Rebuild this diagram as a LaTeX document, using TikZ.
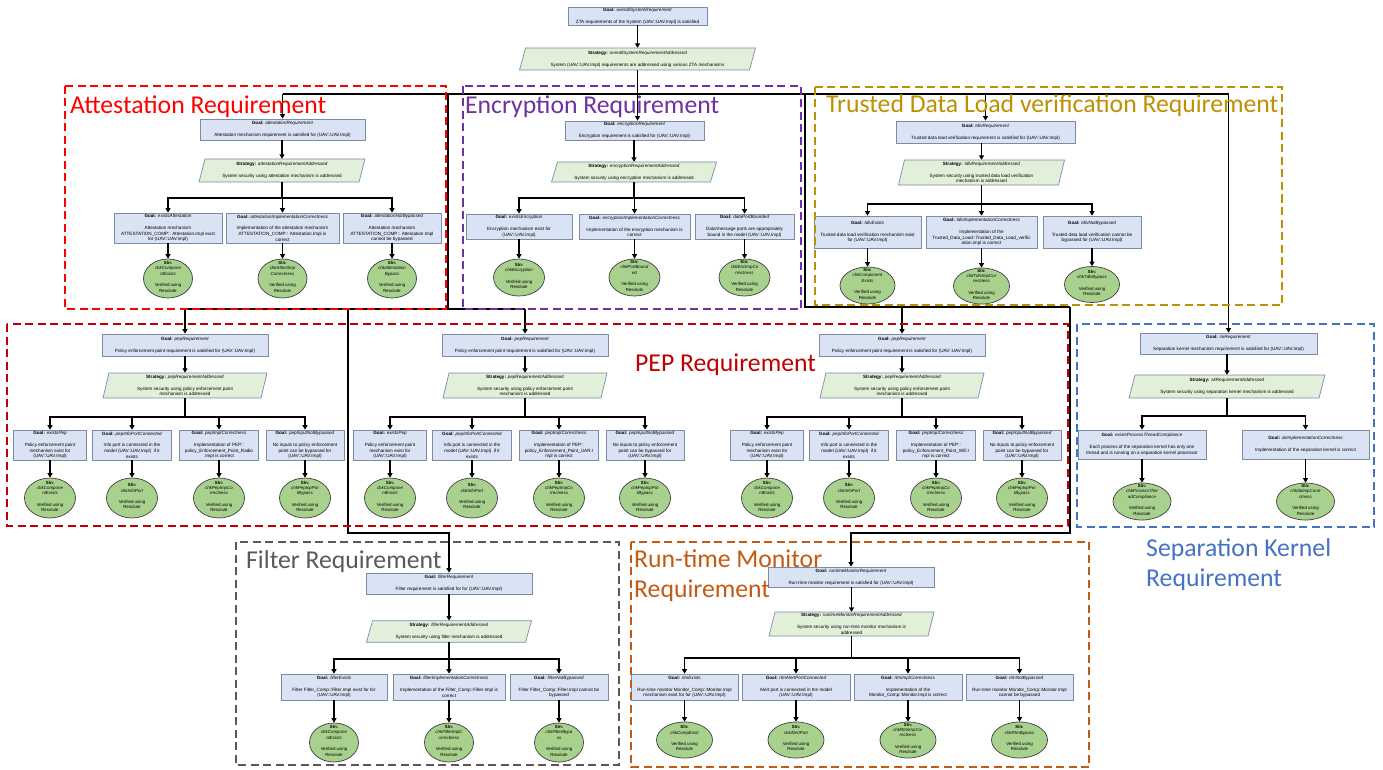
\documentclass[tikz,border=0pt]{standalone}
\usepackage{fontspec}
\setmainfont{Liberation Sans}
\newfontfamily\calib{Carlito}
\usetikzlibrary{arrows.meta,shapes.geometric}

\definecolor{gfill}{HTML}{DAE3F3}
\definecolor{gborder}{HTML}{7C8BA8}
\definecolor{sfill}{HTML}{E2F0D9}
\definecolor{sborder}{HTML}{7C8BA8}
\definecolor{efill}{HTML}{A9D18E}
\definecolor{eborder}{HTML}{3F3F3F}
\definecolor{attc}{HTML}{FF0000}
\definecolor{encc}{HTML}{7030A0}
\definecolor{tdlvc}{HTML}{BF9000}
\definecolor{pepc}{HTML}{C00000}
\definecolor{skc}{HTML}{4472C4}
\definecolor{filc}{HTML}{595959}
\definecolor{rtmc}{HTML}{C55A11}

\newcommand\boxfont{\fontsize{4.6}{5.7}\selectfont}
\newcommand\GoalT[1]{\textbf{Goal:} \textit{#1}}
\newcommand\StratT[1]{\textbf{Strategy:} \textit{#1}}
\newcommand\SlnT[1]{\raisebox{0pt}[0pt][0pt]{\begin{tabular}{@{}c@{}}\textbf{Sln:}\\#1\\[6pt]Verified using\\Resolute\end{tabular}}}

% strategy: parallelogram drawn first, then the named text node on top
% #1 name, #2 cx, #3 cy, #4 width, #5 height, #6 text
\newcommand\Strat[6]{%
  \path[stratshape] ({#2-#4/2-3},{#3+#5/2}) -- ({#2+#4/2-3},{#3+#5/2})
    -- ({#2+#4/2+3},{#3-#5/2}) -- ({#2-#4/2+3},{#3-#5/2}) -- cycle;
  \node[strat, minimum width=#4pt, minimum height=#5pt] (#1) at (#2,#3) {#6};%
}

% policy enforcement point subtree: #1 prefix, #2 centre x, #3 end of impl name
\newcommand\PEPblock[3]{%
  \node[goal, minimum width=166pt, minimum height=22pt] (#1G) at (#2,345)
    {\GoalT{pepRequirement}\\[6pt]Policy enforcement point requirement is satisfied for (UAV::UAV.Impl)};
  \Strat{#1S}{#2}{385.5}{158}{25}{\StratT{pepRequirementAddressed}\\[6pt]System security using policy enforcement point\\mechanism is addressed}
  \coordinate (#1B) at (#2,417);
  \node[goal, minimum width=73pt, minimum height=30pt] (#1C1) at ({#2-135},445)
    {\GoalT{existsPep}\\[6pt]Policy enforcement point\\mechanism exist for\\(UAV::UAV.Impl)};
  \node[goal, minimum width=79pt, minimum height=30pt] (#1C2) at ({#2-53},445)
    {\GoalT{pepInfoPortConnected}\\[6pt]Info port is connected in the\\model (UAV::UAV.Impl)\ \ if it\\exists};
  \node[goal, minimum width=79pt, minimum height=30pt] (#1C3) at ({#2+34},445)
    {\GoalT{pepImplCorrectness}\\[6pt]Implementation of PEP::\\policy\_Enforcement\_Point\_#3};
  \node[goal, minimum width=78pt, minimum height=30pt] (#1C4) at ({#2+120},445)
    {\GoalT{pepInputNotBypassed}\\[6pt]No inputs to policy enforcement\\point can be bypassed for\\(UAV::UAV.Impl)};
  \node[sln, minimum width=51pt, minimum height=40pt] (#1E1) at ({#2-135},498) {\SlnT{\textit{chkCompone}\\\textit{ntExists}}};
  \node[sln, minimum width=51pt, minimum height=40pt] (#1E2) at ({#2-53},498) {\SlnT{\textit{chkInfoPort}}};
  \node[sln, minimum width=51pt, minimum height=40pt] (#1E3) at ({#2+34},498) {\SlnT{\textit{chkPepImpCo}\\\textit{rrectness}}};
  \node[sln, minimum width=51pt, minimum height=40pt] (#1E4) at ({#2+120},498) {\SlnT{\textit{chkPepInpPor}\\\textit{tBypass}}};
  \draw[arr] (#1G.south) -- (#1S.north);
  \foreach \k in {1,2,3,4}{%
    \draw[arr] (#1S.south) -- (#1B) -| (#1C\k.north);
    \draw[arr] (#1C\k.south) -- (#1E\k.north);
  }%
}

\begin{document}
\begin{tikzpicture}[x=1pt,y=-1pt,
  goal/.style={draw=gborder, fill=gfill, line width=0.7pt, inner sep=0.5pt, align=center, font=\boxfont},
  strat/.style={inner sep=0.5pt, align=center, font=\boxfont},
  stratshape/.style={draw=sborder, fill=sfill, line width=0.7pt},
  sln/.style={ellipse, draw=eborder, fill=efill, line width=0.7pt, inner sep=0pt, font=\fontsize{4.4}{5.4}\selectfont},
  arr/.style={-{Triangle[length=4.5pt,width=5pt]}, line width=1.3pt, black},
  wire/.style={line width=1.3pt, black},
  frame/.style={line width=1.8pt, dash pattern=on 8pt off 4.5pt},
  biglabel/.style={font=\calib\fontsize{25.7}{30}\selectfont, anchor=base west, inner sep=0pt}]

\useasboundingbox (0,0) rectangle (1383,770);
\fill[white] (0,0) rectangle (1383,770);

% ---------------- top level ----------------
\node[goal, minimum width=139pt, minimum height=18pt] (G0) at (637.5,16)
  {\GoalT{overallSystemRequirement}\\[6pt]ZTA requirements of the System (UAV::UAV.Impl) is satisfied};
\Strat{S0}{637.5}{59}{230}{22}{\StratT{overallSystemRequirementAddressed}\\[6pt]System (UAV::UAV.Impl) requirements are addressed using various ZTA mechanisms}
\draw[arr] (G0.south) -- (G0.south |- S0.north);

% ---------------- attestation ----------------
\node[goal, minimum width=165pt, minimum height=21pt] (GA) at (282.5,129.5)
  {\GoalT{attestationRequirement}\\[6pt]Attestation mechanism requirement is satisfied for (UAV::UAV.Impl)};
\Strat{SA}{282}{170.5}{160}{23}{\StratT{attestationRequirementAddressed}\\[6pt]System security using attestation mechanism is addressed}
\coordinate (BA) at (282,198);
\node[goal, minimum width=108pt, minimum height=30pt] (GA1) at (168,228)
  {\GoalT{existsAttestation}\\[6pt]Attestation mechanism\\ATTESTATION\_COMP:: Attestation.Impl exist\\for (UAV::UAV.Impl)};
\node[goal, minimum width=113pt, minimum height=30pt] (GA2) at (282.5,228)
  {\GoalT{attestationImplementationCorrectness}\\[6pt]Implementation of the attestation mechanism\\ATTESTATION\_COMP:: Attestation.Impl is\\correct};
\node[goal, minimum width=98pt, minimum height=30pt] (GA3) at (392,228)
  {\GoalT{attestationNotBypassed}\\[6pt]Attestation mechanism\\ATTESTATION\_COMP:: Attestation.Impl\\cannot be bypassed};
\node[sln, minimum width=49pt, minimum height=39pt] (EA1) at (168,278.5) {\SlnT{\textit{chkCompone}\\\textit{ntExists}}};
\node[sln, minimum width=49pt, minimum height=39pt] (EA2) at (282.5,278.5) {\SlnT{\textit{chkAttestImp}\\\textit{Correctness}}};
\node[sln, minimum width=49pt, minimum height=39pt] (EA3) at (392,278.5) {\SlnT{\textit{chkAttestation}\\\textit{Bypass}}};
\draw[arr] (GA.south -| SA.north) -- (SA.north);
\foreach \k in {1,2,3}{%
  \draw[arr] (SA.south) -- (BA) -| (GA\k.north);
  \draw[arr] (GA\k.south) -- (EA\k.north);
}

% ---------------- encryption ----------------
\node[goal, minimum width=139pt, minimum height=19pt] (GE) at (634.5,130.5)
  {\GoalT{encryptionRequirement}\\[6pt]Encryption requirement is satisfied for (UAV::UAV.Impl)};
\Strat{SE}{634}{172}{159}{20}{\StratT{encryptionRequirementAddressed}\\[6pt]System security using encryption mechanism is addressed}
\coordinate (BE) at (634,198);
\node[goal, minimum width=106pt, minimum height=25pt] (GE1) at (519,226.5)
  {\GoalT{existsEncryption}\\[6pt]Encryption mechanism exist for\\(UAV::UAV.Impl)};
\node[goal, minimum width=111pt, minimum height=25pt] (GE2) at (634.5,226.5)
  {\GoalT{encryptionImplementationCorrectness}\\[6pt]Implementation of the encryption mechanism is\\correct};
\node[goal, minimum width=99pt, minimum height=25pt] (GE3) at (744.5,226.5)
  {\GoalT{dataPortBounded}\\[6pt]Data/message ports are appropriately\\bound in the model (UAV::UAV.Impl)};
\node[sln, minimum width=51pt, minimum height=37pt] (EE1) at (519,277.5) {\SlnT{\textit{chkEncryption}}};
\node[sln, minimum width=51pt, minimum height=37pt] (EE2) at (634.5,277.5) {\SlnT{\textit{chkPortBound}\\\textit{ed}}};
\node[sln, minimum width=51pt, minimum height=37pt] (EE3) at (744.5,277.5) {\SlnT{\textit{chkEncImpCo}\\\textit{rrectness}}};
\draw[arr] (GE.south -| SE.north) -- (SE.north);
\foreach \k in {1,2,3}{%
  \draw[arr] (SE.south) -- (BE) -| (GE\k.north);
  \draw[arr] (GE\k.south) -- (EE\k.north);
}

% ---------------- trusted data load verification ----------------
\node[goal, minimum width=179pt, minimum height=22pt] (GT) at (985.5,132)
  {\GoalT{tdlvRequirement}\\[6pt]Trusted data load verification requirement is satisfied for (UAV::UAV.Impl)};
\Strat{ST}{981.5}{172.5}{160}{25}{\StratT{tdlvRequirementAddressed}\\[6pt]System security using trusted data load verification\\mechanism is addressed}
\coordinate (BT) at (981.5,204);
\node[goal, minimum width=107pt, minimum height=32pt] (GT1) at (867.5,232)
  {\GoalT{tdlvExists}\\[6pt]Trusted data load verification mechanism exist\\for (UAV::UAV.Impl)};
\node[goal, minimum width=111pt, minimum height=32pt] (GT2) at (981.5,232)
  {\GoalT{tdlvImplementationCorrectness}\\[6pt]Implementation of the\\Trusted\_Data\_Load::Trusted\_Data\_Load\_verific\\ation.impl is correct};
\node[goal, minimum width=98pt, minimum height=32pt] (GT3) at (1092,232)
  {\GoalT{tdlvNotBypassed}\\[6pt]Trusted data load verification cannot be\\bypassed for (UAV::UAV.Impl)};
\node[sln, minimum width=55pt, minimum height=37pt] (ET1) at (867.5,285.5) {\SlnT{\textit{chkComponent}\\\textit{Exists}}};
\node[sln, minimum width=56pt, minimum height=36pt] (ET2) at (981.5,286) {\SlnT{\textit{chkTdlvImpCor}\\\textit{rectness}}};
\node[sln, minimum width=55pt, minimum height=36pt] (ET3) at (1092,284.5) {\SlnT{\textit{chkTdlvBypass}}};
\draw[arr] (GT.south -| ST.north) -- (ST.north);
\foreach \k in {1,2,3}{%
  \draw[arr] (ST.south) -- (BT) -| (GT\k.north);
  \draw[arr] (GT\k.south) -- (ET\k.north);
}

% ---------------- policy enforcement points ----------------
\PEPblock{PA}{185}{Radio\\.Impl is correct}
\PEPblock{PB}{525}{UAR.I\\mpl is correct}
\PEPblock{PC}{902}{Wifi.I\\mpl is correct}

% ---------------- separation kernel ----------------
\node[goal, minimum width=177pt, minimum height=21pt] (GS) at (1228.5,343.5)
  {\GoalT{skRequirement}\\[6pt]Separation kernel mechanism requirement is satisfied for (UAV::UAV.Impl)};
\Strat{SS}{1227}{386.5}{190}{23}{\StratT{skRequirementAddressed}\\[6pt]System security using separation kernel mechanism is addressed}
\coordinate (BS) at (1227,416);
\node[goal, minimum width=128pt, minimum height=29pt] (GS1) at (1142,444.5)
  {\GoalT{existsProcessThreadCompliance}\\[6pt]Each process of the separation kernel has only one\\thread and is running on a separation kernel processor};
\node[goal, minimum width=127pt, minimum height=29pt] (GS2) at (1305.5,444.5)
  {\GoalT{skImplementationCorrectness}\\[6pt]Implementation of the separation kernel is correct};
\node[sln, minimum width=58pt, minimum height=37pt] (ES1) at (1142,501.5) {\SlnT{\textit{chkProcessThre}\\\textit{adCompliance}}};
\node[sln, minimum width=58pt, minimum height=37pt] (ES2) at (1305.5,501.5) {\SlnT{\textit{chkSkImpCorre}\\\textit{ctness}}};
\draw[arr] (GS.south -| SS.north) -- (SS.north);
\foreach \k in {1,2}{%
  \draw[arr] (SS.south) -- (BS) -| (GS\k.north);
  \draw[arr] (GS\k.south) -- (ES\k.north);
}

% ---------------- filter ----------------
\node[goal, minimum width=166pt, minimum height=21pt] (GF) at (449,583.5)
  {\GoalT{filterRequirement}\\[6pt]Filter requirement is satisfied for for (UAV::UAV.Impl)};
\Strat{SF}{449}{631.5}{159}{21.5}{\StratT{filterRequirementAddressed}\\[6pt]System security using filter mechanism is addressed}
\coordinate (BF) at (449,659);
\node[goal, minimum width=106pt, minimum height=26pt] (GF1) at (334,687)
  {\GoalT{filterExists}\\[6pt]Filter Filter\_Comp::Filter.Impl exist for for\\(UAV::UAV.Impl)};
\node[goal, minimum width=112pt, minimum height=26pt] (GF2) at (449,687)
  {\GoalT{filterImplementationCorrectness}\\[6pt]Implementation of the Filter\_Comp::Filter.Impl is\\correct};
\node[goal, minimum width=98pt, minimum height=26pt] (GF3) at (559,687)
  {\GoalT{filterNotBypassed}\\[6pt]Filter Filter\_Comp::Filter.Impl cannot be\\bypassed};
\node[sln, minimum width=49pt, minimum height=39pt] (EF1) at (334,742.5) {\SlnT{\textit{chkCompone}\\\textit{ntExists}}};
\node[sln, minimum width=49pt, minimum height=39pt] (EF2) at (449,742.5) {\SlnT{\textit{chkFilterImpC}\\\textit{orrectness}}};
\node[sln, minimum width=49pt, minimum height=39pt] (EF3) at (559,742.5) {\SlnT{\textit{chkFilterBypa}\\\textit{ss}}};
\draw[arr] (GF.south -| SF.north) -- (SF.north);
\foreach \k in {1,2,3}{%
  \draw[arr] (SF.south) -- (BF) -| (GF\k.north);
  \draw[arr] (GF\k.south) -- (EF\k.north);
}

% ---------------- run-time monitor ----------------
\node[goal, minimum width=166pt, minimum height=20pt] (GR) at (851,577)
  {\GoalT{runtimeMonitorRequirement}\\[6pt]Run-time monitor requirement is satisfied for (UAV::UAV.Impl)};
\Strat{SR}{851.5}{624}{159}{24}{\StratT{runtimeMonitorRequirementAddressed}\\[6pt]System security using run-time monitor mechanism is\\addressed}
\coordinate (BR) at (851.5,658);
\node[goal, minimum width=107pt, minimum height=26pt] (GR1) at (684.5,687)
  {\GoalT{rtmExists}\\[6pt]Run-time monitor Monitor\_Comp::Monitor.Impl\\mechanism exist for for (UAV::UAV.Impl)};
\node[goal, minimum width=108pt, minimum height=26pt] (GR2) at (796,687)
  {\GoalT{rtmAlertPortConnected}\\[6pt]Alert port is connected in the model\\(UAV::UAV.Impl)};
\node[goal, minimum width=108pt, minimum height=26pt] (GR3) at (908,687)
  {\GoalT{rtmImplCorrectness}\\[6pt]Implementation of the\\Monitor\_Comp::Monitor.Impl is correct};
\node[goal, minimum width=107pt, minimum height=26pt] (GR4) at (1019.5,687)
  {\GoalT{rtmNotBypassed}\\[6pt]Run-time monitor Monitor\_Comp::Monitor.Impl\\cannot be bypassed};
\node[sln, minimum width=56pt, minimum height=36pt] (ER1) at (684.5,740) {\SlnT{\textit{chkCompExist}}};
\node[sln, minimum width=56pt, minimum height=36pt] (ER2) at (796,740) {\SlnT{\textit{chkAlertPort}}};
\node[sln, minimum width=56pt, minimum height=36pt] (ER3) at (908,740) {\SlnT{\textit{chkRtmImpCor}\\\textit{rectness}}};
\node[sln, minimum width=56pt, minimum height=36pt] (ER4) at (1019.5,740) {\SlnT{\textit{chkRtmBypass}}};
\draw[arr] (GR.south -| SR.north) -- (SR.north);
\foreach \k in {1,2,3,4}{%
  \draw[arr] (SR.south) -- (BR) -| (GR\k.north);
  \draw[arr] (GR\k.south) -- (ER\k.north);
}

% ---------------- wiring between the requirement groups ----------------
\coordinate (b0) at (0,94);
\coordinate (jL) at (448,94);
\coordinate (jL2) at (448,309);
\coordinate (jF) at (348,309);
\coordinate (jF2) at (348,533);
\coordinate (jR) at (805,94);
\coordinate (jR2) at (805,307);
\coordinate (jR3) at (1070,307);
\coordinate (jR4) at (1070,533);

\draw[wire] (S0.south) -- (S0.south |- b0);
\draw[wire] (GA.north |- b0) -- (GS.north |- b0);
\draw[arr] (GA.north |- b0) -- (GA.north);
\draw[arr] (S0.south |- b0) -- (S0.south |- GE.north);
\draw[arr] (GT.north |- b0) -- (GT.north);
\draw[arr] (GS.north |- b0) -- (GS.north);

\draw[wire] (jL) -- (jL2);
\draw[wire] (PAG.north |- jL2) -- (PBG.north |- jL2);
\draw[arr] (PAG.north |- jL2) -- (PAG.north);
\draw[arr] (PBG.north |- jL2) -- (PBG.north);
\draw[arr] (jF) -- (jF2) -| (GF.north);

\draw[wire] (jR) -- (jR2) -- (jR3);
\draw[arr] (PCG.north |- jR2) -- (PCG.north);
\draw[arr] (jR3) -- (jR4) -| (GR.north);

% ---------------- dashed group frames ----------------
\draw[frame, attc] (65,86) rectangle (446,309);
\draw[frame, encc] (463,86) rectangle (801,309);
\draw[frame, tdlvc] (815,87) rectangle (1282,305);
\draw[frame, pepc] (7,324) rectangle (1068,526);
\draw[frame, skc] (1077,324) rectangle (1374,527);
\draw[frame, filc] (236,542) rectangle (619,765);
\draw[frame, rtmc] (631,542) rectangle (1089,767);

% ---------------- group titles ----------------
\node[biglabel, text=attc] (LA) at (70,114) {Attestation Requirement};
\node[biglabel, text=encc] (LE) at (465,114) {Encryption Requirement};
\node[biglabel, text=tdlvc] (LT) at (826,113) {Trusted Data Load verification Requirement};
\node[biglabel, text=pepc] (LP) at (635,371) {PEP Requirement};
\node[biglabel, text=skc] (LS1) at (1146,556) {Separation Kernel};
\node[biglabel, text=skc] (LS2) at (1146,586) {Requirement};
\node[biglabel, text=filc] (LF) at (246,568) {Filter Requirement};
\node[biglabel, text=rtmc] (LR1) at (634,567) {Run-time Monitor};
\node[biglabel, text=rtmc] (LR2) at (634,597) {Requirement};
\end{tikzpicture}
\end{document}
